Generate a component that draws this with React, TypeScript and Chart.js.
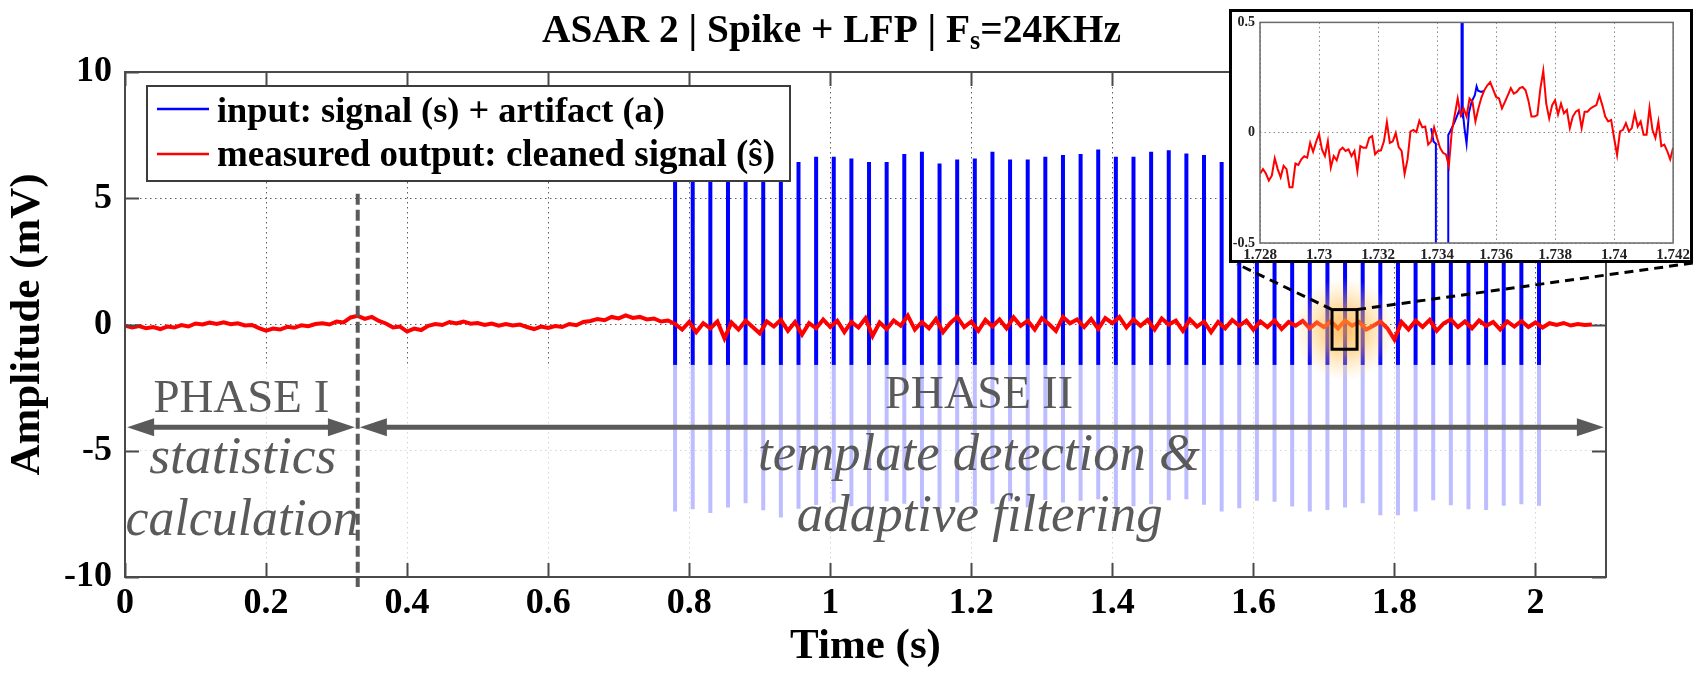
import React, { useEffect, useRef } from 'react';
import { Chart, registerables } from 'chart.js';

Chart.register(...registerables);

const FONT = "'Liberation Serif', 'Times New Roman', serif";

// ---------------- main chart data ----------------
const xTicks = [0, 0.2, 0.4, 0.6, 0.8, 1, 1.2, 1.4, 1.6, 1.8, 2];
const yTicks = [-10, -5, 0, 5, 10];

// stimulation artifact times (s)
const spikeTimes = [
  0.780, 0.805, 0.830, 0.855, 0.880, 0.905, 0.930, 0.955, 0.980, 1.005,
  1.030, 1.055, 1.080, 1.105, 1.130, 1.155, 1.180, 1.205, 1.230, 1.255,
  1.280, 1.305, 1.330, 1.355, 1.380, 1.405, 1.430, 1.455, 1.480, 1.505,
  1.530, 1.555, 1.580, 1.605, 1.630, 1.655, 1.680, 1.705, 1.730, 1.755,
  1.780, 1.805, 1.830, 1.855, 1.880, 1.905, 1.930, 1.955, 1.980, 2.005,
];
// artifact peak (mV)
const spikeTops = [
  6.6, 6.5, 6.7, 6.6, 6.5, 6.7, 6.6, 6.44, 6.64, 6.64,
  6.57, 6.44, 6.44, 6.75, 6.84, 6.38, 6.53, 6.57, 6.84, 6.53,
  6.53, 6.64, 6.71, 6.75, 6.93, 6.64, 6.64, 6.84, 6.9, 6.77,
  6.71, 6.44, 6.6, 6.7, 6.6, 6.5, 6.7, 6.6, 6.6, 6.7,
  6.6, 6.5, 6.6, 6.7, 6.6, 6.6, 6.5, 6.6, 6.7, 6.6,
];
// artifact trough (mV)
const spikeBottoms = [
  -7.41, -7.32, -7.47, -7.25, -7.08, -7.36, -7.64, -7.3, -7.15, -7.05,
  -7.2, -7.35, -7.0, -7.1, -7.25, -7.3, -7.05, -7.2, -7.1, -7.0,
  -7.25, -6.95, -7.05, -6.98, -6.92, -7.25, -7.2, -7.12, -6.96, -6.92,
  -7.14, -7.41, -7.28, -6.98, -7.02, -7.21, -7.41, -7.35, -7.25, -7.08,
  -7.55, -7.55, -7.41, -6.96, -7.16, -7.32, -7.35, -7.18, -7.12, -7.18,
];

// cleaned output, sampled every RED_DT seconds from RED_T0
const RED_T0 = 0;
const RED_DT = 0.01;
const redOutput = [
  -0.05, -0.12, -0.06, -0.15, -0.10, -0.18, -0.08, -0.12, -0.02, -0.08,
  0.04, 0.00, 0.08, 0.02, 0.09, 0.01, 0.05, -0.04, -0.02, -0.14,
  -0.24, -0.16, -0.20, -0.09, -0.13, -0.03, -0.07, 0.02, 0.05, 0.00,
  0.12, 0.08, 0.28, 0.34, 0.22, 0.30, 0.14, 0.04, -0.12, -0.08,
  -0.28, -0.16, -0.22, -0.05, 0.02, -0.02, 0.10, 0.04, 0.12, 0.03,
  0.06, -0.02, 0.04, -0.05, 0.02, -0.04, 0.00, -0.10, -0.18, -0.08,
  -0.14, -0.06, -0.10, 0.02, -0.03, 0.10, 0.14, 0.22, 0.17, 0.30,
  0.24, 0.36, 0.26, 0.30, 0.20, 0.24, 0.12, 0.16, 0.02, -0.20,
  0.10, -0.30, 0.05, -0.15, 0.12, -0.55, 0.08, -0.20, 0.15, -0.10,
  -0.35, 0.12, -0.08, 0.18, -0.25, 0.10, -0.40, 0.05, -0.15, 0.20,
  -0.10, 0.15, -0.30, 0.10, -0.12, 0.25, -0.45, 0.08, -0.18, 0.16,
  -0.05, 0.35, -0.20, 0.10, -0.15, 0.22, -0.30, 0.05, 0.30, -0.10,
  0.12, -0.25, 0.18, -0.08, 0.20, -0.15, 0.28, -0.05, 0.15, -0.20,
  0.25, 0.02, -0.25, 0.30, 0.05, 0.20, -0.10, 0.22, -0.18, 0.25,
  0.05, 0.30, -0.12, 0.20, -0.05, 0.18, -0.20, 0.24, 0.00, 0.15,
  -0.25, 0.20, -0.08, 0.12, -0.30, 0.10, -0.15, 0.18, -0.05, 0.15,
  -0.20, 0.12, -0.10, 0.16, -0.18, 0.10, -0.05, 0.14, -0.15, 0.08,
  -0.10, 0.12, -0.15, 0.15, -0.05, 0.10, -0.20, -0.05, 0.12, -0.15,
  -0.60, 0.10, -0.20, 0.15, -0.10, 0.18, -0.25, 0.05, 0.20, -0.10,
  0.12, -0.15, 0.16, -0.05, 0.10, -0.20, 0.12, -0.08, 0.14, -0.10,
  0.08, -0.12, 0.05, -0.02, 0.06, -0.04, 0.02, -0.02, 0.00,
];

const seriesLabels = ['input: signal (s) + artifact (a)', 'measured output: cleaned signal (\u015D)'];

// phase annotation (data units)
const PHASE_SPLIT = 0.33;
const SPLIT_RANGE = [5.18, -10.4];
const ARROW_V = -4.07;
const phaseArrows = [[0.003, 0.326], [0.333, 2.097]];
const phaseTexts = [
  { text: 'PHASE I', t: 0.165, v: -3.47, w: 176, italic: false },
  { text: 'statistics', t: 0.167, v: -5.89, w: 187, italic: true },
  { text: 'calculation', t: 0.166, v: -8.35, w: 233, italic: true },
  { text: 'PHASE II', t: 1.211, v: -3.31, w: 188, italic: false },
  { text: 'template detection &', t: 1.211, v: -5.77, w: 442, italic: true },
  { text: 'adaptive filtering', t: 1.212, v: -8.19, w: 366, italic: true },
];
const FADE_BELOW = -1.6;
const zoomBox = { t0: 1.7115, t1: 1.747, v0: -0.98, v1: 0.59 };

// ---------------- inset data ----------------
const insetXTicks = [1.728, 1.73, 1.732, 1.734, 1.736, 1.738, 1.74, 1.742];
const insetYTicks = [-0.5, 0, 0.5];
const INSET_T0 = 1.728;
const INSET_DT = 0.0001;
const insetRed = [
  -0.187, -0.165, -0.185, -0.217, -0.195, -0.116, -0.165, -0.202, -0.150, -0.165,
  -0.247, -0.247, -0.140, -0.146, -0.121, -0.107, -0.113, -0.046, -0.086, -0.042,
  -0.006, -0.076, -0.106, -0.039, -0.158, -0.106, -0.125, -0.080, -0.068, -0.083,
  -0.076, -0.106, -0.083, -0.173, -0.061, -0.068, -0.068, -0.024, -0.016, -0.098,
  -0.083, -0.080, -0.039, 0.048, -0.046, -0.039, -0.001, -0.065, -0.083, -0.187,
  -0.121, 0.006, 0.013, 0.003, 0.054, 0.024, 0.028, -0.054, -0.039, 0.024,
  -0.024, -0.068, -0.091, -0.098, -0.150, 0.006, 0.080, 0.155, 0.080, 0.110,
  0.073, 0.155, 0.140, 0.051, 0.110, 0.158, 0.192, 0.214, 0.229, 0.196,
  0.162, 0.155, 0.110, 0.140, 0.170, 0.202, 0.177, 0.185, 0.202, 0.207,
  0.192, 0.143, 0.073, 0.073, 0.080, 0.199, 0.281, 0.132, 0.065, 0.125,
  0.147, 0.083, 0.132, 0.088, 0.103, 0.021, 0.073, 0.095, 0.103, 0.021,
  0.095, 0.095, 0.110, 0.118, 0.125, 0.170, 0.125, 0.073, 0.051, 0.058,
  -0.024, -0.101, 0.006, 0.013, 0.043, 0.006, 0.021, 0.088, 0.028, 0.051,
  -0.009, -0.009, 0.113, 0.013, -0.024, 0.051, -0.061, -0.054, -0.083, -0.121,
  -0.068,
];
const insetBlue: [number, number][] = [
  [1.7338, 0.02], [1.73388, -0.04], [1.73396, -0.05], [1.73396, -2.0],
  [1.73438, -2.0], [1.73438, -0.01], [1.73446, 0.01], [1.7346, 0.05],
  [1.73475, 0.1], [1.73483, 0.08], [1.73483, 2.0], [1.73487, 2.0],
  [1.73487, 0.1], [1.73493, 0.02], [1.735, -0.05], [1.73508, 0.09],
  [1.73517, 0.14], [1.73528, 0.17], [1.73534, 0.21], [1.73539, 0.19],
  [1.7355, 0.185], [1.7356, 0.19],
];

// ---------------- layout (pixels) ----------------
const W = 1695;
const H = 673;
const INSET = { left: 1229, top: 9, width: 464, height: 254 };

const fmt = (v: number | string) => String(Math.round(Number(v) * 1000) / 1000);

function fitText(ctx: CanvasRenderingContext2D, text: string, x: number, y: number, width: number, style: string, align: CanvasTextAlign) {
  ctx.font = `${style} 40px ${FONT}`;
  const w = ctx.measureText(text).width;
  const size = (40 * width) / w;
  ctx.font = `${style} ${size}px ${FONT}`;
  ctx.textAlign = align;
  ctx.textBaseline = 'alphabetic';
  ctx.fillText(text, x, y);
}

function arrow(ctx: CanvasRenderingContext2D, x1: number, x2: number, y: number) {
  const hl = 27, hw = 9;
  ctx.beginPath();
  ctx.moveTo(x1 + hl - 2, y);
  ctx.lineTo(x2 - hl + 2, y);
  ctx.stroke();
  ctx.beginPath();
  ctx.moveTo(x1, y);
  ctx.lineTo(x1 + hl, y - hw);
  ctx.lineTo(x1 + hl, y + hw);
  ctx.closePath();
  ctx.fill();
  ctx.beginPath();
  ctx.moveTo(x2, y);
  ctx.lineTo(x2 - hl, y - hw);
  ctx.lineTo(x2 - hl, y + hw);
  ctx.closePath();
  ctx.fill();
}

const mainDecor = {
  id: 'mainDecor',
  afterDatasetsDraw(chart: any) {
    const { ctx, chartArea: a, scales } = chart;
    const x = scales.x, y = scales.y;
    ctx.save();
    // fade lower half
    const yf = y.getPixelForValue(FADE_BELOW);
    ctx.fillStyle = 'rgba(255,255,255,0.74)';
    ctx.fillRect(a.left, yf, a.right - a.left, a.bottom - yf);

    // glow + magnifier box
    const bx0 = x.getPixelForValue(zoomBox.t0), bx1 = x.getPixelForValue(zoomBox.t1);
    const by0 = y.getPixelForValue(zoomBox.v1), by1 = y.getPixelForValue(zoomBox.v0);
    const gx = (bx0 + bx1) / 2, gy = (by0 + by1) / 2;
    const R = 52;
    const g = ctx.createRadialGradient(gx, gy, 0, gx, gy, R);
    g.addColorStop(0, 'rgba(255,165,40,0.7)');
    g.addColorStop(0.45, 'rgba(255,185,70,0.5)');
    g.addColorStop(1, 'rgba(255,215,130,0)');
    ctx.fillStyle = g;
    ctx.fillRect(gx - R, gy - R, 2 * R, 2 * R);
    ctx.strokeStyle = '#000';
    ctx.lineWidth = 3;
    ctx.strokeRect(bx0, by0, bx1 - bx0, by1 - by0);

    // separator
    const sx = x.getPixelForValue(PHASE_SPLIT);
    ctx.strokeStyle = '#5a5a5a';
    ctx.lineWidth = 4;
    ctx.setLineDash([11, 5]);
    ctx.beginPath();
    ctx.moveTo(sx, y.getPixelForValue(SPLIT_RANGE[0]));
    ctx.lineTo(sx, y.getPixelForValue(SPLIT_RANGE[1]));
    ctx.stroke();
    ctx.setLineDash([]);

    // arrows
    ctx.strokeStyle = '#5a5a5a';
    ctx.fillStyle = '#5a5a5a';
    ctx.lineWidth = 5;
    const ay = y.getPixelForValue(ARROW_V);
    for (const [t0, t1] of phaseArrows) arrow(ctx, x.getPixelForValue(t0), x.getPixelForValue(t1), ay);

    // texts
    ctx.fillStyle = '#5a5a5a';
    for (const p of phaseTexts) {
      fitText(ctx, p.text, x.getPixelForValue(p.t), y.getPixelForValue(p.v), p.w, p.italic ? 'italic normal' : 'normal normal', 'center');
    }
    ctx.restore();
  },
  afterDraw(chart: any) {
    const { ctx, chartArea: a, scales } = chart;
    const x = scales.x, y = scales.y;
    ctx.save();
    // plot box + inward ticks
    ctx.strokeStyle = '#4a4a4a';
    ctx.lineWidth = 2;
    ctx.strokeRect(a.left, a.top, a.right - a.left, a.bottom - a.top);
    const TL = 14;
    ctx.beginPath();
    for (const t of xTicks) {
      const px = Math.round(x.getPixelForValue(t)) + 0.5;
      ctx.moveTo(px, a.bottom); ctx.lineTo(px, a.bottom - TL);
      ctx.moveTo(px, a.top); ctx.lineTo(px, a.top + TL);
    }
    for (const v of yTicks) {
      const py = Math.round(y.getPixelForValue(v)) + 0.5;
      ctx.moveTo(a.left, py); ctx.lineTo(a.left + TL, py);
      ctx.moveTo(a.right, py); ctx.lineTo(a.right - TL, py);
    }
    ctx.stroke();

    // legend
    const lx = a.left + 22, ly = a.top + 14, lw = 643, lh = 95;
    ctx.fillStyle = '#fff';
    ctx.fillRect(lx, ly, lw, lh);
    ctx.strokeStyle = '#3c3c3c';
    ctx.lineWidth = 2;
    ctx.strokeRect(lx, ly, lw, lh);
    const rows = [
      { ds: 1, ly: 23, base: 35.7, w: 448 },
      { ds: 0, ly: 68, base: 79.7, w: 558 },
    ];
    for (const r of rows) {
      const ds = chart.data.datasets[r.ds];
      ctx.strokeStyle = ds.borderColor;
      ctx.lineWidth = 2.5;
      ctx.beginPath();
      ctx.moveTo(lx + 10, ly + r.ly);
      ctx.lineTo(lx + 62, ly + r.ly);
      ctx.stroke();
      ctx.fillStyle = '#000';
      fitText(ctx, ds.label, lx + 70, ly + r.base, r.w, 'normal bold', 'left');
    }

    // connectors to inset
    const bx0 = x.getPixelForValue(zoomBox.t0), bx1 = x.getPixelForValue(zoomBox.t1);
    const by0 = y.getPixelForValue(zoomBox.v1);
    ctx.strokeStyle = '#000';
    ctx.lineWidth = 3;
    ctx.setLineDash([9, 6]);
    ctx.beginPath();
    ctx.moveTo(bx0, by0);
    ctx.lineTo(INSET.left + 8, INSET.top + INSET.height + 1);
    ctx.moveTo(bx1, by0);
    ctx.lineTo(INSET.left + INSET.width, INSET.top + INSET.height);
    ctx.stroke();
    ctx.setLineDash([]);

    // title with subscript
    const parts = [
      { t: 'ASAR 2 | Spike + LFP | F', size: 39, dy: 0 },
      { t: 's', size: 26, dy: 7 },
      { t: '=24KHz', size: 39, dy: 0 },
    ];
    let total = 0;
    for (const p of parts) {
      ctx.font = `bold ${p.size}px ${FONT}`;
      total += ctx.measureText(p.t).width;
    }
    const k = 579 / total;
    let tx = 542;
    ctx.fillStyle = '#000';
    ctx.textAlign = 'left';
    ctx.textBaseline = 'alphabetic';
    for (const p of parts) {
      ctx.font = `bold ${p.size * k}px ${FONT}`;
      ctx.fillText(p.t, tx, 41.7 + p.dy * k);
      tx += ctx.measureText(p.t).width;
    }
    ctx.restore();
  },
};

const insetDecor = {
  id: 'insetDecor',
  beforeDraw(chart: any) {
    const { ctx } = chart;
    ctx.save();
    ctx.fillStyle = '#fff';
    ctx.fillRect(0, 0, chart.width, chart.height);
    ctx.restore();
  },
  afterDraw(chart: any) {
    const { ctx, chartArea: a } = chart;
    ctx.save();
    ctx.strokeStyle = '#6a6a6a';
    ctx.lineWidth = 1.5;
    ctx.strokeRect(a.left, a.top, a.right - a.left, a.bottom - a.top);
    ctx.strokeStyle = '#000';
    ctx.lineWidth = 3;
    ctx.strokeRect(1.5, 1.5, chart.width - 3, chart.height - 3);
    ctx.restore();
  },
};

export default function App() {
  const mainRef = useRef<HTMLCanvasElement>(null);
  const insetRef = useRef<HTMLCanvasElement>(null);

  useEffect(() => {
    document.body.style.margin = '0';
    const bluePts: any[] = [];
    spikeTimes.forEach((t, i) => {
      bluePts.push({ x: t, y: spikeBottoms[i] });
      bluePts.push({ x: t, y: spikeTops[i] });
      bluePts.push({ x: t, y: null });
    });
    const redPts = redOutput.map((v, i) => ({ x: RED_T0 + i * RED_DT, y: v }));

    const tickFont = { family: FONT, size: 36, weight: 'bold' as const };
    const titleFont = { family: FONT, size: 43, weight: 'bold' as const };
    const gridCfg = { color: 'rgba(40,40,40,0.75)', lineWidth: 1, drawTicks: false };

    const main = new Chart(mainRef.current!, {
      type: 'line',
      data: {
        datasets: [
          {
            label: seriesLabels[1],
            data: redPts,
            borderColor: '#ff0000',
            borderWidth: 4,
            pointRadius: 0,
            tension: 0,
          },
          {
            label: seriesLabels[0],
            data: bluePts,
            borderColor: '#0000ff',
            borderWidth: 4,
            pointRadius: 0,
            spanGaps: false,
            borderCapStyle: 'butt',
          },
        ],
      },
      options: {
        responsive: false,
        animation: false,
        devicePixelRatio: 1,
        events: [],
        layout: { padding: { left: 0, right: 89, top: 72, bottom: 0 } },
        plugins: { legend: { display: false }, tooltip: { enabled: false }, title: { display: false } },
        scales: {
          x: {
            type: 'linear',
            min: 0,
            max: 2.1,
            afterBuildTicks: (s: any) => { s.ticks = xTicks.map((v) => ({ value: v })); },
            afterFit: (s: any) => { s.height = 96; },
            ticks: { autoSkip: false, maxRotation: 0, padding: 5, color: '#000', font: tickFont, callback: (v: any) => fmt(v) },
            grid: gridCfg,
            border: { display: false, dash: [1.5, 3.5] },
            title: { display: true, text: 'Time (s)', color: '#000', font: titleFont, padding: { top: 0, bottom: 0 } },
          },
          y: {
            type: 'linear',
            min: -10,
            max: 10,
            afterBuildTicks: (s: any) => { s.ticks = yTicks.map((v) => ({ value: v })); },
            afterFit: (s: any) => { s.width = 125; },
            ticks: { autoSkip: false, padding: 13, color: '#000', font: tickFont, callback: (v: any) => fmt(v) },
            grid: gridCfg,
            border: { display: false, dash: [1.5, 3.5] },
            title: { display: true, text: 'Amplitude (mV)', color: '#000', font: titleFont, padding: { top: 2, bottom: 0 } },
          },
        },
      } as any,
      plugins: [mainDecor],
    });

    const insetRedPts = insetRed.map((v, i) => ({ x: INSET_T0 + i * INSET_DT, y: v }));
    const insetBluePts = insetBlue.map(([t, v]) => ({ x: t, y: v }));
    const smallGrid = { color: 'rgba(60,60,60,0.6)', lineWidth: 1, drawTicks: false };

    const inset = new Chart(insetRef.current!, {
      type: 'line',
      data: {
        datasets: [
          { label: 'output', data: insetRedPts, borderColor: '#ff0000', borderWidth: 2, pointRadius: 0, tension: 0 },
          { label: 'input', data: insetBluePts, borderColor: '#0000ff', borderWidth: 2, pointRadius: 0, tension: 0 },
        ],
      },
      options: {
        responsive: false,
        animation: false,
        devicePixelRatio: 1,
        events: [],
        layout: { padding: { left: 0, right: 16, top: 10, bottom: 0 } },
        plugins: { legend: { display: false }, tooltip: { enabled: false } },
        scales: {
          x: {
            type: 'linear',
            min: 1.728,
            max: 1.742,
            afterBuildTicks: (s: any) => { s.ticks = insetXTicks.map((v) => ({ value: v })); },
            afterFit: (s: any) => { s.height = 20; },
            ticks: { autoSkip: false, maxRotation: 0, padding: 3, color: '#222', font: { family: FONT, size: 15, weight: 'bold' }, callback: (v: any) => fmt(v) },
            grid: smallGrid,
            border: { display: false, dash: [1.5, 3] },
          },
          y: {
            type: 'linear',
            min: -0.5,
            max: 0.5,
            afterBuildTicks: (s: any) => { s.ticks = insetYTicks.map((v) => ({ value: v })); },
            afterFit: (s: any) => { s.width = 31; },
            ticks: { autoSkip: false, padding: 5, color: '#222', font: { family: FONT, size: 14, weight: 'bold' }, callback: (v: any) => fmt(v) },
            grid: smallGrid,
            border: { display: false, dash: [1.5, 3] },
          },
        },
      } as any,
      plugins: [insetDecor],
    });

    return () => {
      main.destroy();
      inset.destroy();
    };
  }, []);

  return (
    <div style={{ position: 'relative', width: W, height: H, background: '#fff', overflow: 'hidden' }}>
      <canvas ref={mainRef} width={W} height={H} style={{ position: 'absolute', left: 0, top: 0 }} />
      <canvas
        ref={insetRef}
        width={INSET.width}
        height={INSET.height}
        style={{ position: 'absolute', left: INSET.left, top: INSET.top }}
      />
    </div>
  );
}
